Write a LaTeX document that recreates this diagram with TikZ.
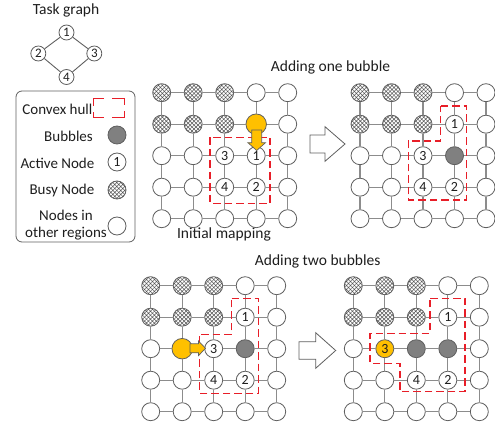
\documentclass[tikz,border=0pt]{standalone}
\usepackage{fontspec}
\setmainfont{Carlito}
\usetikzlibrary{patterns.meta}
\definecolor{hullred}{RGB}{232,30,40}
\definecolor{gold}{RGB}{255,192,0}
\definecolor{bubc}{RGB}{128,128,128}
\definecolor{ndraw}{RGB}{95,95,95}
\definecolor{edgec}{RGB}{140,140,140}
\definecolor{hatchc}{RGB}{85,85,85}
\definecolor{txt}{RGB}{30,30,30}
\tikzset{
  gnode/.style={circle, minimum size=18pt, inner sep=0pt, draw=ndraw, line width=0.8pt,
    text=txt, font=\fontsize{14}{14}\selectfont},
  wn/.style={gnode, fill=white},
  bn/.style={gnode, preaction={fill=white}, pattern={Hatch[angle=45,distance=2.8pt,line width=0.5pt]}, pattern color=hatchc},
  gn/.style={gnode, fill=bubc},
  yn/.style={gnode, fill=gold},
  ybig/.style={yn, minimum size=20.5pt},
  tnode/.style={circle, minimum size=15pt, inner sep=0pt, draw=ndraw, line width=0.8pt, fill=white,
    text=txt, font=\fontsize{13}{13}\selectfont},
  tedge/.style={draw=ndraw, line width=0.9pt},
  gedge/.style={draw=edgec, line width=1.2pt},
  hull/.style={draw=hullred, line width=1.5pt, dash pattern=on 7.5pt off 4pt},
  bigarrow/.style={draw=ndraw, line width=0.8pt, fill=white},
  smallarrow/.style={draw=ndraw, line width=0.7pt, fill=gold},
  title/.style={text=txt, font=\fontsize{15.5}{15.5}\selectfont},
  legtext/.style={text=txt, font=\fontsize{15}{17}\selectfont, inner sep=0pt},
}
\newcommand\gridrow[5]{%
  \foreach \t/\l [count=\c from 0] in {#5}{%
    \pgfmathsetmacro\px{#3+31.5*\c}%
    \pgfmathsetmacro\py{#4+31.5*#2}%
    \edef\mkn{\noexpand\node[\t] (#1-#2-\c) at (\px,\py) {\l};}%
    \mkn
  }%
}
\newcommand\gridedges[1]{%
  \foreach \r in {0,...,4}{\foreach \c in {0,...,3}{%
    \pgfmathtruncatemacro\n{\c+1}%
    \draw[gedge] (#1-\r-\c) -- (#1-\r-\n);
    \draw[gedge] (#1-\c-\r) -- (#1-\n-\r);
  }}%
}
\begin{document}
\begin{tikzpicture}[x=1pt,y=-1pt]
\useasboundingbox (0,0) rectangle (495,430);

% ---- Task graph
\node[title] (ttl) at (66,10) {Task graph};
\node[tnode] (t1) at (66.5,32.5) {1};
\node[tnode] (t2) at (38.3,53.5) {2};
\node[tnode] (t3) at (94.3,53.5) {3};
\node[tnode] (t4) at (66.5,77) {4};
\draw[tedge] (t1) -- (t2);
\draw[tedge] (t1) -- (t3);
\draw[tedge] (t2) -- (t4);
\draw[tedge] (t3) -- (t4);

% ---- Legend
\draw[draw=ndraw, line width=0.8pt, rounded corners=6pt] (16,91) rectangle (135,242);
\node[legtext, anchor=east] (lh) at (92.5,109) {Convex hull};
\draw[hullred, line width=1.5pt] (93.5,106) -- (93.5,98.5) -- (103.5,98.5);
\draw[hullred, line width=1.5pt] (112,98.5) -- (124.5,98.5) -- (124.5,105);
\draw[hullred, line width=1.5pt] (124.5,111) -- (124.5,117.5) -- (112,117.5);
\draw[hullred, line width=1.5pt] (103.5,117.5) -- (93.5,117.5) -- (93.5,112);
\node[legtext, anchor=east] (lb) at (93,136) {Bubbles};
\node[gn] (lbn) at (117,135) {};
\node[legtext, anchor=east] (la) at (94.5,163) {Active Node};
\node[wn] (lan) at (117,162) {1};
\node[legtext, anchor=east] (lbu) at (94.5,191) {Busy Node};
\node[bn] (lbun) at (117,190) {};
\node[legtext, align=center] (lo) at (66,225.5) {Nodes in\\other regions};
\node[wn] (lon) at (117,226) {};

% ---- Titles
\node[title] (tt1) at (330.5,67) {Adding one bubble};
\node[title] (tt2) at (224,234) {Initial mapping};
\node[title] (tt3) at (317.7,261) {Adding two bubbles};

% ---- Grid TL (initial mapping)
\gridrow{a}{0}{161.7}{92.7}{bn/,bn/,bn/,wn/,wn/}
\gridrow{a}{1}{161.7}{92.7}{bn/,bn/,bn/,ybig/,wn/}
\gridrow{a}{2}{161.7}{92.7}{wn/,wn/,wn/3,wn/1,wn/}
\gridrow{a}{3}{161.7}{92.7}{wn/,wn/,wn/4,wn/2,wn/}
\gridrow{a}{4}{161.7}{92.7}{wn/,wn/,wn/,wn/,wn/}
\gridedges{a}
\draw[hull] (210,137.3) rectangle (270,203.3);
\draw[smallarrow] (251.7,130) -- (261.7,130) -- (261.7,142.7) -- (265.5,142.7) -- (256.7,150.5)
  -- (247.9,142.7) -- (251.7,142.7) -- cycle;

% ---- Grid TR
\gridrow{b}{0}{360}{92.7}{bn/,bn/,bn/,wn/,wn/}
\gridrow{b}{1}{360}{92.7}{bn/,bn/,bn/,wn/1,wn/}
\gridrow{b}{2}{360}{92.7}{wn/,wn/,wn/3,gn/,wn/}
\gridrow{b}{3}{360}{92.7}{wn/,wn/,wn/4,wn/2,wn/}
\gridrow{b}{4}{360}{92.7}{wn/,wn/,wn/,wn/,wn/}
\gridedges{b}
\draw[hull] (440.7,106) -- (466.7,106) -- (466.7,200) -- (408.3,200) -- (408.3,141) -- (440.7,141) -- cycle;

% ---- Grid BL
\gridrow{c}{0}{150.7}{285.7}{bn/,bn/,bn/,wn/,wn/}
\gridrow{c}{1}{150.7}{285.7}{bn/,bn/,bn/,wn/1,wn/}
\gridrow{c}{2}{150.7}{285.7}{wn/,ybig/,wn/3,gn/,wn/}
\gridrow{c}{3}{150.7}{285.7}{wn/,wn/,wn/4,wn/2,wn/}
\gridrow{c}{4}{150.7}{285.7}{wn/,wn/,wn/,wn/,wn/}
\gridedges{c}
\draw[hull] (231.7,298.3) -- (258.3,298.3) -- (258.3,393.3) -- (199.3,393.3) -- (199.3,334.3) -- (231.7,334.3) -- cycle;
\draw[smallarrow] (190,343.8) -- (198.5,343.8) -- (198.5,341) -- (205.5,348.3) -- (198.5,355.6)
  -- (198.5,352.8) -- (190,352.8) -- cycle;

% ---- Grid BR
\gridrow{d}{0}{353.3}{285.7}{bn/,bn/,bn/,wn/,wn/}
\gridrow{d}{1}{353.3}{285.7}{bn/,bn/,bn/,wn/1,wn/}
\gridrow{d}{2}{353.3}{285.7}{wn/,yn/3,gn/,gn/,wn/}
\gridrow{d}{3}{353.3}{285.7}{wn/,wn/,wn/4,wn/2,wn/}
\gridrow{d}{4}{353.3}{285.7}{wn/,wn/,wn/,wn/,wn/}
\gridedges{d}
\draw[hull] (430,298.3) -- (465,298.3) -- (465,391.7) -- (400,391.7) -- (400,363.3) -- (370,363.3)
  -- (370,333.3) -- (430,333.3) -- cycle;

% ---- Big arrows
\draw[bigarrow] (310,135) -- (325,135) -- (325,126.7) -- (345,144) -- (325,161.3) -- (325,153) -- (310,153) -- cycle;
\draw[bigarrow] (299,341.7) -- (315.7,341.7) -- (315.7,332.7) -- (335.7,350.5) -- (315.7,368.3) -- (315.7,359.3) -- (299,359.3) -- cycle;
\end{tikzpicture}
\end{document}
